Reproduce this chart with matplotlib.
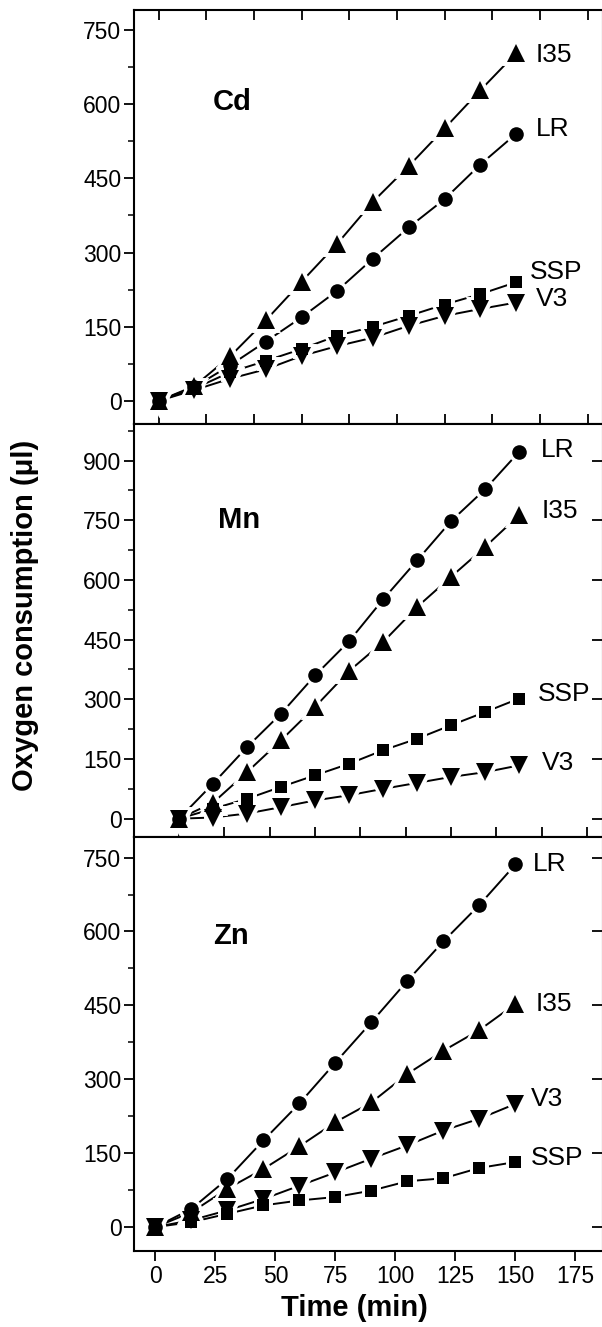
import numpy as np
import matplotlib
matplotlib.use("Agg")
import matplotlib.pyplot as plt
from matplotlib.ticker import MultipleLocator
from matplotlib import lines as mlines

plt.rcParams['font.family'] = ['Liberation Sans', 'DejaVu Sans']

# time points (min)
time = [0, 15, 30, 45, 60, 75, 90, 105, 120, 135, 150]

# Cd panel
cd_i35 = [0, 30, 90, 163, 241, 318, 403, 475, 551, 628, 703]
cd_lr = [0, 28, 72, 120, 169, 223, 288, 351, 408, 478, 540]
cd_ssp = [0, 25, 58, 81, 105, 132, 150, 172, 195, 216, 240]
cd_v3 = [0, 22, 45, 64, 91, 111, 128, 152, 172, 186, 199]

# Mn panel
mn_lr = [0, 88, 180, 264, 360, 446, 551, 649, 748, 828, 922]
mn_i35 = [0, 40, 117, 197, 281, 371, 444, 532, 608, 683, 763]
mn_ssp = [0, 25, 50, 80, 109, 138, 172, 201, 235, 268, 302]
mn_v3 = [0, 3, 13, 29, 46, 59, 75, 90, 105, 117, 134]

# Zn panel
zn_lr = [0, 37, 98, 176, 251, 334, 416, 500, 580, 654, 736]
zn_i35 = [0, 30, 78, 118, 164, 213, 253, 311, 358, 400, 453]
zn_v3 = [0, 14, 34, 57, 84, 111, 139, 166, 196, 220, 250]
zn_ssp = [0, 10, 27, 44, 54, 61, 74, 93, 99, 120, 132]

panel_names = ['Cd', 'Mn', 'Zn']
y_ticks = [[0, 150, 300, 450, 600, 750],
           [0, 150, 300, 450, 600, 750, 900],
           [0, 150, 300, 450, 600, 750]]
x_ticks_bottom = [0, 25, 50, 75, 100, 125, 150, 175]

markers = {'I35': ('^', 12.5), 'LR': ('o', 10.5), 'SSP': ('s', 9), 'V3': ('v', 12.5)}

panels = [
    {'I35': cd_i35, 'LR': cd_lr, 'SSP': cd_ssp, 'V3': cd_v3},
    {'LR': mn_lr, 'I35': mn_i35, 'SSP': mn_ssp, 'V3': mn_v3},
    {'LR': zn_lr, 'I35': zn_i35, 'V3': zn_v3, 'SSP': zn_ssp},
]
# label offsets (pixels) from the last point
label_off = [
    {'I35': (20, -2), 'LR': (20, 5), 'SSP': (14, 10), 'V3': (20, 4)},
    {'LR': (22, 2), 'I35': (23, 4), 'SSP': (19, 5), 'V3': (23, 2)},
    {'LR': (17, 0), 'I35': (20, 0), 'V3': (15, 5), 'SSP': (15, 4)},
]

W, H = 602, 1327
fig = plt.figure(figsize=(W / 100, H / 100), dpi=100)

left, right = 134, 603
boxes = [(10, 424), (424, 837), (837, 1251)]
xlims = [(-10.3, 186.5), (-19.85, 187), (-8.96, 186.5)]
ylims = [(-46.6, 790.5), (-46, 992), (-48.6, 791.8)]
name_pos = [(213, 102), (218, 520), (213, 936)]

axes = []
for i in range(3):
    top, bot = boxes[i]
    ax = fig.add_axes([left / W, 1 - bot / H, (right - left) / W, (bot - top) / H])
    ax.set_xlim(*xlims[i])
    ax.set_ylim(*ylims[i])
    for s in ax.spines.values():
        s.set_linewidth(1.5)
    ax.set_yticks(y_ticks[i])
    ax.yaxis.set_minor_locator(MultipleLocator(75))
    ax.tick_params(axis='y', which='major', direction='out', length=7, width=1.3,
                   labelsize=16.5, pad=2)
    ax.tick_params(axis='y', which='minor', direction='out', length=4, width=1.1)

    data = panels[i]
    # lines
    for k, v in data.items():
        ax.plot(time, v, color='black', lw=1.4, zorder=2)
    # white halos make the gaps around the markers
    for k, v in data.items():
        m, ms = markers[k]
        ax.plot(time, v, ls='none', marker=m, ms=ms, mfc='white', mec='white',
                mew=5, zorder=3)
    for k, v in data.items():
        m, ms = markers[k]
        ax.plot(time, v, ls='none', marker=m, ms=ms, mfc='black', mec='black',
                mew=0, zorder=4)
        dx, dy = label_off[i][k]
        ax.annotate(k, xy=(time[-1], v[-1]), xytext=(dx, dy),
                    textcoords='offset pixels', ha='left', va='center',
                    fontsize=19)

    fig.text(name_pos[i][0] / W, 1 - name_pos[i][1] / H, panel_names[i],
             fontsize=21, fontweight='bold', ha='left', va='center')
    axes.append(ax)

ax0, ax1, ax2 = axes

# top panel: inward ticks on top, ticks across the shared bottom edge
ax0.xaxis.set_major_locator(MultipleLocator(20))
ax0.tick_params(axis='x', which='major', top=True, labeltop=False,
                labelbottom=False, direction='inout', length=14, width=1.3)
for t in ax0.xaxis.get_major_ticks():
    t.tick2line.set_marker(mlines.TICKDOWN)
    t.tick2line.set_markersize(7)

ax1.xaxis.set_major_locator(MultipleLocator(20))
ax1.tick_params(axis='x', which='major', top=False, labelbottom=False,
                direction='inout', length=14, width=1.3)

ax2.set_xticks(x_ticks_bottom)
ax2.tick_params(axis='x', which='major', top=False, direction='out',
                length=7, width=1.3, labelsize=16.5, pad=3)

# right ticks inward, partly off the figure edge
for ax in (ax1, ax2):
    ax.tick_params(axis='y', which='major', right=True)
    for t in ax.yaxis.get_major_ticks():
        t.tick2line.set_marker(mlines.TICKLEFT)
        t.tick2line.set_markersize(8)

fig.text(25 / W, 1 - 615 / H, 'Oxygen consumption (\u03bcl)', rotation=90,
         fontsize=21, fontweight='bold', ha='center', va='center')
fig.text(354 / W, 1 - 1308 / H, 'Time (min)', fontsize=21, fontweight='bold',
         ha='center', va='center')

fig.savefig('out.png', dpi=100)
